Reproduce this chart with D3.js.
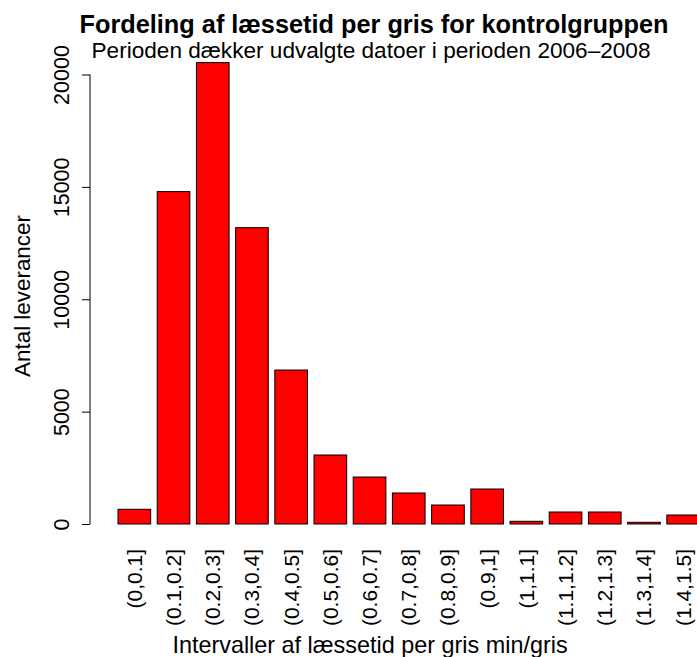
<!DOCTYPE html>
<html>
<head>
<meta charset="utf-8">
<script src="https://cdn.jsdelivr.net/npm/d3@7"></script>
<style>
  html, body { margin: 0; padding: 0; background: #fff; }
  text { font-family: "Liberation Sans", Arial, Helvetica, sans-serif; fill: #000; }
</style>
</head>
<body>
<svg id="chart" width="697" height="657"></svg>
<script>
const categories = ["(0,0.1]", "(0.1,0.2]", "(0.2,0.3]", "(0.3,0.4]", "(0.4,0.5]",
  "(0.5,0.6]", "(0.6,0.7]", "(0.7,0.8]", "(0.8,0.9]", "(0.9,1]",
  "(1,1.1]", "(1.1,1.2]", "(1.2,1.3]", "(1.3,1.4]", "(1.4,1.5]"];
const counts = [654, 14790, 20530, 13185, 6850, 3070, 2090, 1380, 845, 1557, 120, 534, 534, 76, 400];
const yTicks = [0, 5000, 10000, 15000, 20000];
const titleText = "Fordeling af læssetid per gris for kontrolgruppen";
const subtitleText = "Perioden dækker udvalgte datoer i perioden 2006–2008";
const xLabel = "Intervaller af læssetid per gris min/gris";
const yLabel = "Antal leverancer";

const svg = d3.select("#chart");

// R barplot user coordinates: bar i spans [0.2 + 1.2 i, 1.2 + 1.2 i]
const x = d3.scaleLinear().domain([0.2, 18.0]).range([118, 699.5]);
const y = d3.scaleLinear().domain([0, 20000]).range([524, 74.5]);
const barLeft = i => 0.2 + 1.2 * i;

// bars
svg.append("g").selectAll("rect")
  .data(counts)
  .join("rect")
  .attr("x", (d, i) => x(barLeft(i)))
  .attr("width", (d, i) => x(barLeft(i) + 1) - x(barLeft(i)))
  .attr("y", d => y(d))
  .attr("height", d => y(0) - y(d))
  .attr("fill", "#ff0000")
  .attr("stroke", "#000")
  .attr("stroke-width", 1);

// y axis
const yAxis = d3.axisLeft(y).tickValues(yTicks).tickSize(8).tickPadding(0).tickFormat(d3.format("d"));
const gy = svg.append("g").attr("transform", "translate(90,0)").call(yAxis);
gy.select(".domain").attr("d", `M0,${y(0)}V${y(20000)}`).attr("stroke", "#000");
gy.selectAll(".tick line").attr("stroke", "#000");
gy.selectAll(".tick text")
  .attr("x", null).attr("dy", null)
  .attr("transform", "translate(-21.5,0) rotate(-90)")
  .attr("text-anchor", "middle")
  .style("font-size", "21.5px")
  .style("font-family", '"Liberation Sans", Arial, sans-serif');

// x category labels (no axis line, rotated)
svg.append("g").selectAll("text")
  .data(categories)
  .join("text")
  .attr("transform", (d, i) => `translate(${x(barLeft(i) + 0.5)},549) rotate(-90)`)
  .attr("dy", "0.35em")
  .attr("text-anchor", "end")
  .style("font-size", "21px")
  .text(d => d);

// titles
svg.append("text")
  .attr("x", 374).attr("y", 32.7)
  .attr("text-anchor", "middle")
  .style("font-size", "25.3px")
  .style("font-weight", "bold")
  .text(titleText);

svg.append("text")
  .attr("x", 371).attr("y", 58.3)
  .attr("text-anchor", "middle")
  .style("font-size", "22.6px")
  .text(subtitleText);

svg.append("text")
  .attr("x", 370).attr("y", 653)
  .attr("text-anchor", "middle")
  .style("font-size", "23.4px")
  .text(xLabel);

svg.append("text")
  .attr("transform", "translate(29.5,296) rotate(-90)")
  .attr("text-anchor", "middle")
  .style("font-size", "22.4px")
  .text(yLabel);
</script>
</body>
</html>
